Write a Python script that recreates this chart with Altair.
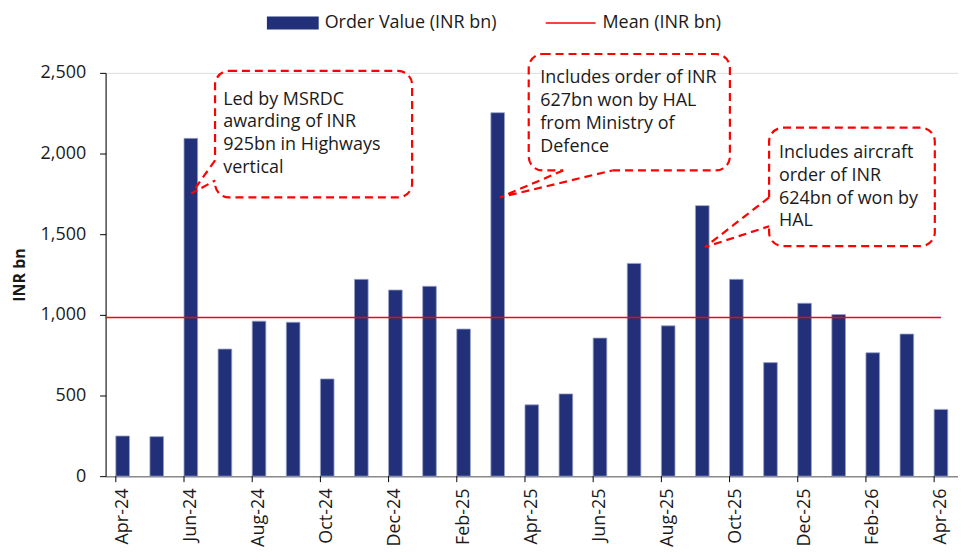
import altair as alt
import pandas as pd

# ---------------- data ----------------
months = ["Apr-24", "May-24", "Jun-24", "Jul-24", "Aug-24", "Sep-24", "Oct-24",
          "Nov-24", "Dec-24", "Jan-25", "Feb-25", "Mar-25", "Apr-25", "May-25",
          "Jun-25", "Jul-25", "Aug-25", "Sep-25", "Oct-25", "Nov-25", "Dec-25",
          "Jan-26", "Feb-26", "Mar-26", "Apr-26"]
order_value = [249, 245, 2094, 788, 961, 954, 603, 1220, 1154, 1177, 912, 2253,
               442, 510, 856, 1319, 932, 1677, 1220, 704, 1072, 1002, 765, 881, 414]
mean_value = [983]
label_months = months[::2]
y_ticks = [0, 500, 1000, 1500, 2000, 2500]

series_bar = "Order Value (INR bn)"
series_mean = "Mean (INR bn)"

# annotations (x in month-slot units, y in INR bn)
ann_text = [
    "Led by MSRDC\nawarding of INR\n925bn in Highways\nvertical",
    "Includes order of INR\n627bn won by HAL\nfrom Ministry of\nDefence",
    "Includes aircraft\norder of INR\n624bn of won by\nHAL",
]
box_x1 = [3.21, 12.41, 19.46]
box_x2 = [8.99, 18.31, 24.32]
box_y1 = [1728, 1895, 1426]
box_y2 = [2512, 2617, 2160]
text_x = [3.45, 12.75, 19.75]
text_y = [2390, 2523, 2060]
# callout wedge: base point 1, tip, base point 2
wedge_x = [[3.21, 2.52, 3.21], [13.42, 11.57, 14.86], [19.46, 17.58, 19.46]]
wedge_y = [[1957, 1753, 1833], [1895, 1728, 1895], [1728, 1420, 1549]]
mean_x = [0, 24.5]

# ---------------- tables ----------------
bars_df = pd.DataFrame({"month": months, "value": order_value, "series": series_bar})
ticks_df = pd.DataFrame({"month": label_months})
mean_df = pd.DataFrame({"x": [mean_x[0]], "x2": [mean_x[1]], "value": mean_value,
                        "series": series_mean})
box_df = pd.DataFrame({"x1": box_x1, "x2": box_x2, "value": box_y1, "y2": box_y2})
text_df = pd.DataFrame({"x": text_x, "value": text_y, "t": ann_text})
rows = []
for w in range(3):
    for k in range(3):
        rows.append({"w": w, "k": k, "x": wedge_x[w][k], "value": wedge_y[w][k]})
wedge_df = pd.DataFrame(rows)
gap_df = pd.DataFrame({"x": [wx[0] for wx in wedge_x], "x2": [wx[2] for wx in wedge_x],
                       "value": [wy[0] for wy in wedge_y], "y2": [wy[2] for wy in wedge_y]})

W, H = 856, 405
FONT = "Open Sans"
TXT = "#1a1a1a"
RED = "#FF0000"
NAVY = "#213079"

yscale = alt.Scale(domain=[0, 2500], nice=False)
band = alt.Scale(domain=months, paddingInner=0.6, paddingOuter=0.3)
qx = alt.Scale(domain=[0, 25], nice=False, zero=False)

yaxis = alt.Axis(values=y_ticks, labelExpr="format(datum.value, ',')", grid=False,
                 tickSize=6, tickColor="#000000", domainColor="#000000",
                 labelFontSize=18, labelColor=TXT, labelPadding=14,
                 titleFontSize=16, titleFontWeight="bold", titleColor=TXT,
                 titlePadding=13, labelFont=FONT, titleFont=FONT)


def Y(field="value:Q"):
    return alt.Y(field, scale=yscale, title="INR bn", axis=yaxis)


bars = alt.Chart(bars_df).mark_bar(stroke="#9AA3C8", strokeWidth=0.8).encode(
    x=alt.X("month:N", scale=band, sort=months, title=None,
            axis=alt.Axis(values=label_months, ticks=False, labelAngle=-90,
                          labelAlign="right", labelBaseline="middle",
                          labelPadding=12, labelFontSize=18, labelColor=TXT,
                          domainColor="#8a8a8a", domainWidth=1.5, labelFont=FONT)),
    y=Y(),
    fill=alt.Fill("series:N", scale=alt.Scale(domain=[series_bar], range=[NAVY]),
                  legend=alt.Legend(orient="none", legendX=162, legendY=-76, title=None,
                                    symbolType="M-1,-0.25H1V0.25H-1Z", symbolSize=2704,
                                    symbolStrokeWidth=0, labelFontSize=18, labelLimit=0,
                                    labelColor=TXT, labelFont=FONT, labelOffset=6)),
)

xticks = alt.Chart(ticks_df).mark_rule(color="#000000", strokeWidth=1).encode(
    x=alt.X("month:N", scale=band, sort=months, bandPosition=0, axis=None),
    y=alt.value(H), y2=alt.value(H + 6),
)

mean_rule = alt.Chart(mean_df).mark_rule(strokeWidth=1.5).encode(
    x=alt.X("x:Q", scale=qx, axis=None), x2="x2:Q",
    y=Y(),
    stroke=alt.Stroke("series:N", scale=alt.Scale(domain=[series_mean], range=[RED]),
                      legend=alt.Legend(orient="none", legendX=441, legendY=-76, title=None,
                                        symbolType="stroke", symbolSize=2500,
                                        symbolStrokeWidth=1.5, labelFontSize=18, labelLimit=0,
                                        labelColor=TXT, labelFont=FONT, labelOffset=6)),
)

boxes = alt.Chart(box_df).mark_rect(filled=False, stroke=RED, strokeWidth=2.2,
                                    strokeDash=[8, 5], cornerRadius=14).encode(
    x=alt.X("x1:Q", scale=qx, axis=None), x2="x2:Q",
    y=Y(), y2="y2:Q",
)

gaps = alt.Chart(gap_df).mark_rule(color="#ffffff", strokeWidth=5).encode(
    x=alt.X("x:Q", scale=qx, axis=None), x2="x2:Q",
    y=Y(), y2="y2:Q",
)

wedges = alt.Chart(wedge_df).mark_line(color=RED, strokeWidth=2.2, strokeDash=[8, 5]).encode(
    x=alt.X("x:Q", scale=qx, axis=None),
    y=Y(),
    detail="w:N", order="k:Q",
)

texts = alt.Chart(text_df).mark_text(align="left", baseline="top", lineBreak="\n",
                                     lineHeight=23, fontSize=18, font=FONT,
                                     color=TXT).encode(
    x=alt.X("x:Q", scale=qx, axis=None),
    y=Y(),
    text="t:N",
)

chart = alt.layer(bars, xticks, mean_rule, boxes, gaps, wedges, texts).resolve_scale(
    x="independent"
).properties(
    width=W, height=H,
    autosize=alt.AutoSizeParams(type="none"),
    padding={"left": 98, "top": 64, "right": 0, "bottom": 72},
).configure_view(stroke=None).configure(font=FONT)

chart.save("out.html", embed_options={"renderer": "svg", "actions": False})
